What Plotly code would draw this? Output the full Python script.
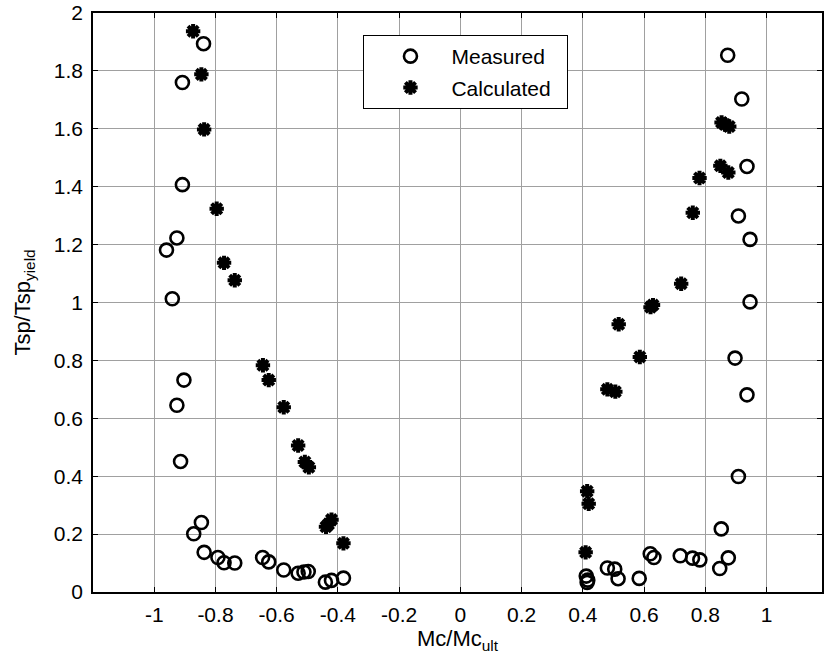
import plotly.graph_objects as go

# ---- data ----
measured_x = [-0.839, -0.908, -0.908, -0.926, -0.960, -0.941, -0.903, -0.926, -0.914,
              -0.846, -0.871, -0.837, -0.792, -0.772, -0.737, -0.646, -0.626, -0.577,
              -0.530, -0.511, -0.497, -0.441, -0.421, -0.382,
              0.411, 0.414, 0.416, 0.480, 0.504, 0.515, 0.584, 0.620, 0.632, 0.718,
              0.758, 0.782, 0.847, 0.875, 0.852, 0.908, 0.936, 0.897, 0.946, 0.946,
              0.908, 0.936, 0.919, 0.873]
measured_y = [1.894, 1.760, 1.407, 1.223, 1.181, 1.013, 0.732, 0.645, 0.451,
              0.240, 0.201, 0.137, 0.119, 0.101, 0.100, 0.119, 0.104, 0.076,
              0.065, 0.069, 0.071, 0.034, 0.040, 0.048,
              0.055, 0.033, 0.041, 0.083, 0.079, 0.046, 0.047, 0.132, 0.119, 0.125,
              0.117, 0.111, 0.081, 0.118, 0.218, 0.399, 0.681, 0.808, 1.002, 1.218,
              1.299, 1.470, 1.703, 1.854]

calculated_x = [-0.873, -0.846, -0.837, -0.796, -0.772, -0.737, -0.645, -0.626, -0.577,
                -0.530, -0.508, -0.495, -0.439, -0.431, -0.421, -0.382,
                0.409, 0.419, 0.414, 0.480, 0.506, 0.517, 0.586, 0.621, 0.629,
                0.721, 0.759, 0.781, 0.849, 0.875, 0.853, 0.864, 0.878]
calculated_y = [1.937, 1.788, 1.598, 1.324, 1.137, 1.077, 0.783, 0.732, 0.638,
                0.506, 0.449, 0.431, 0.225, 0.234, 0.250, 0.168,
                0.137, 0.305, 0.348, 0.700, 0.692, 0.925, 0.812, 0.984, 0.991,
                1.065, 1.310, 1.430, 1.472, 1.449, 1.622, 1.615, 1.608]

x_tickvals = [-1, -0.8, -0.6, -0.4, -0.2, 0, 0.2, 0.4, 0.6, 0.8, 1]
x_ticktext = ["-1", "-0.8", "-0.6", "-0.4", "-0.2", "0", "0.2", "0.4", "0.6", "0.8", "1"]
y_tickvals = [0, 0.2, 0.4, 0.6, 0.8, 1, 1.2, 1.4, 1.6, 1.8, 2]
y_ticktext = ["0", "0.2", "0.4", "0.6", "0.8", "1", "1.2", "1.4", "1.6", "1.8", "2"]

FONT = "Liberation Sans, Arial, sans-serif"

fig = go.Figure()
fig.add_trace(go.Scatter(
    x=measured_x, y=measured_y, mode="markers", name="Measured", legendgroup="m",
    marker=dict(symbol="circle-open", size=13, color="black", line=dict(width=2.6, color="black")),
))
fig.add_trace(go.Scatter(
    x=calculated_x, y=calculated_y, mode="markers", name="Calculated\u00a0\u00a0", legendgroup="c",
    marker=dict(symbol="asterisk-open", size=12, color="black", line=dict(width=4, color="black")),
))

axis_common = dict(
    showline=True, linecolor="black", linewidth=1.5, mirror="ticks",
    ticks="inside", ticklen=5, tickcolor="black", tickwidth=1,
    showgrid=True, gridcolor="#a0a0a0", gridwidth=1,
    zeroline=False,
    tickfont=dict(family=FONT, size=21, color="black"),
    ticklabeloverflow="allow",
)

fig.update_xaxes(
    range=[-1.2, 1.181], tickvals=x_tickvals, ticktext=x_ticktext,
    title=dict(text="Mc/Mc<sub>ult</sub>", font=dict(family=FONT, size=22, color="black"), standoff=4),
    ticklabelstandoff=3,
    **axis_common,
)
fig.update_yaxes(
    range=[0, 2], tickvals=y_tickvals, ticktext=y_ticktext,
    title=dict(text="Tsp/Tsp<sub>yield</sub>", font=dict(family=FONT, size=22, color="black"), standoff=17),
    ticklabelstandoff=4,
    **axis_common,
)

fig.update_layout(
    width=825, height=665,
    margin=dict(l=93, r=1, t=11, b=73),
    paper_bgcolor="white", plot_bgcolor="white",
    font=dict(family=FONT, size=21, color="black"),
    showlegend=True,
    legend=dict(
        x=0.371, y=0.962, xanchor="left", yanchor="top",
        bgcolor="white", bordercolor="black", borderwidth=1,
        font=dict(family=FONT, size=21, color="black"),
        itemwidth=72, indentation=5, tracegroupgap=1,
    ),
)

fig.write_html("out.html")
